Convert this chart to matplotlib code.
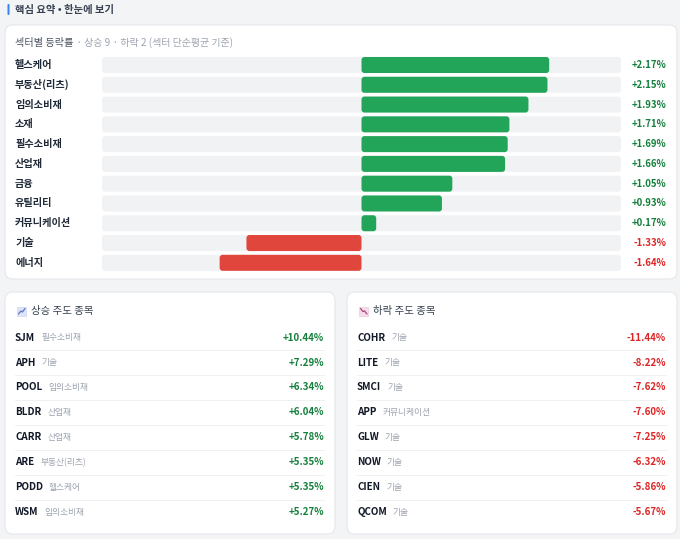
import matplotlib
matplotlib.use('Agg')
import matplotlib.pyplot as plt
from matplotlib.patches import FancyBboxPatch, Rectangle
from matplotlib.transforms import blended_transform_factory
import numpy as np

plt.rcParams['font.family'] = ['Noto Sans CJK KR', 'DejaVu Sans']

# ---------------- data ----------------
title = '핵심 요약 • 한눈에 보기'
panel_title = '섹터별 등락률'
sectors = ['헬스케어', '부동산(리츠)', '임의소비재', '소재', '필수소비재', '산업재',
           '금융', '유틸리티', '커뮤니케이션', '기술', '에너지']
sector_chg = [2.17, 2.15, 1.93, 1.71, 1.69, 1.66, 1.05, 0.93, 0.17, -1.33, -1.64]

gain_title = '상승 주도 종목'
gain_tickers = ['SJM', 'APH', 'POOL', 'BLDR', 'CARR', 'ARE', 'PODD', 'WSM']
gain_sectors = ['필수소비재', '기술', '임의소비재', '산업재', '산업재', '부동산(리츠)', '헬스케어', '임의소비재']
gain_chg = [10.44, 7.29, 6.34, 6.04, 5.78, 5.35, 5.35, 5.27]

loss_title = '하락 주도 종목'
loss_tickers = ['COHR', 'LITE', 'SMCI', 'APP', 'GLW', 'NOW', 'CIEN', 'QCOM']
loss_sectors = ['기술', '기술', '기술', '커뮤니케이션', '기술', '기술', '기술', '기술']
loss_chg = [-11.44, -8.22, -7.62, -7.60, -7.25, -6.32, -5.86, -5.67]

# ---------------- style ----------------
BG = '#f3f4f6'
CARD_EDGE = '#e5e7eb'
TRACK = '#f1f2f4'
BAR_UP = '#22a559'
BAR_DN = '#e0463c'
TXT_UP = '#15803d'
TXT_DN = '#dc2626'
DARK = '#1f2937'
MID = '#4b5563'
LIGHT = '#9ca3af'

W, H = 680, 539
fig = plt.figure(figsize=(W / 100, H / 100), dpi=100, facecolor=BG)
bg = fig.add_axes([0, 0, 1, 1], zorder=0)
bg.set_xlim(0, W)
bg.set_ylim(H, 0)
bg.axis('off')
bg.set_facecolor(BG)


def card(x, y, w, h):
    bg.add_patch(FancyBboxPatch((x, y), w, h, boxstyle='round,pad=0,rounding_size=8',
                                facecolor='white', edgecolor=CARD_EDGE, linewidth=0.8))


# title
bg.add_patch(FancyBboxPatch((7.5, 4), 2, 11, boxstyle='round,pad=0,rounding_size=1',
                            facecolor='#3b82f6', edgecolor='none'))
bg.text(15, 9.5, title, fontsize=7.4, color='#374151', fontweight='bold', va='center', ha='left')

# top card
card(5, 25, 672, 254)
n_up = sum(1 for v in sector_chg if v > 0)
n_dn = sum(1 for v in sector_chg if v < 0)
t = bg.text(15, 43, panel_title, fontsize=7.3, color=MID, fontweight='medium', va='center', ha='left')
bg.annotate(f' · 상승 {n_up} · 하락 {n_dn} (섹터 단순평균 기준)', xy=(1, 0.5), xycoords=t,
            va='center', ha='left', fontsize=7.2, color=LIGHT)

# bar axes
row_top, row_bot = 55.1, 272.7
x0, x1 = 102, 621
ax = fig.add_axes([x0 / W, 1 - row_bot / H, (x1 - x0) / W, (row_bot - row_top) / H], zorder=2)
ax.patch.set_alpha(0)
n = len(sectors)
ax.set_xlim(-3, 3)
ax.set_ylim(n - 0.5, -0.5)
ax.axis('off')
yy = np.arange(n)
tracks = ax.barh(yy, 6, left=-3, height=0.81, color=TRACK)
bars = ax.barh(yy, sector_chg, height=0.81,
               color=[BAR_UP if v >= 0 else BAR_DN for v in sector_chg])

xupp = 6 / (x1 - x0)
yupp = n / (row_bot - row_top)


def roundify(container, r_px):
    for rect in container:
        x, y0 = rect.get_xy()
        w, h = rect.get_width(), rect.get_height()
        if w < 0:
            x += w
            w = -w
        p = FancyBboxPatch((x, y0), w, h,
                           boxstyle=f'round,pad=0,rounding_size={r_px * xupp}',
                           mutation_aspect=yupp / xupp,
                           facecolor=rect.get_facecolor(), edgecolor='none',
                           zorder=rect.get_zorder())
        ax.add_patch(p)
        rect.set_visible(False)


roundify(tracks, 3)
roundify(bars, 3)

tr = blended_transform_factory(fig.transFigure, ax.transData)
for i, (lab, v) in enumerate(zip(sectors, sector_chg)):
    ax.text(15 / W, i, lab, transform=tr, fontsize=7.3, fontweight='bold', color=DARK,
            va='center', ha='left')
    ax.text(666 / W, i, f'{v:+.2f}%', transform=tr, fontsize=6.9, fontweight='bold',
            color=TXT_UP if v >= 0 else TXT_DN, va='center', ha='right')

# bottom cards
row0, dy = 337.7, 24.9


def mover_card(cx, head, tickers, secs, vals, up):
    card(cx, 292, 330, 242)
    ix, iy = cx + 12, 306.5
    if up:
        bg.add_patch(Rectangle((ix, iy), 9, 9, facecolor='#dfe4f7', edgecolor='#c7cfee', lw=0.4))
        bg.plot([ix + 1.5, ix + 4, ix + 5.5, ix + 8], [iy + 7.5, iy + 4.5, iy + 5.5, iy + 2],
                color='#5873d0', lw=0.9, solid_capstyle='round')
    else:
        bg.add_patch(Rectangle((ix, iy), 9, 9, facecolor='#f4dde9', edgecolor='#e6c3d6', lw=0.4))
        bg.plot([ix + 1.5, ix + 4, ix + 5.5, ix + 8], [iy + 2, iy + 5, iy + 4.5, iy + 7.5],
                color='#b0407f', lw=0.9, solid_capstyle='round')
    bg.text(cx + 26, 311, head, fontsize=7.5, color='#374151', fontweight='medium',
            va='center', ha='left')
    lx, rx = cx + 10, cx + 319
    for i, (tk, sc, v) in enumerate(zip(tickers, secs, vals)):
        y = row0 + dy * i
        tt = bg.text(lx, y, tk, fontsize=7.1, fontweight='bold', color='#111827',
                     va='center', ha='left')
        bg.annotate(sc, xy=(1, 0.5), xycoords=tt, xytext=(6, 0), textcoords='offset pixels',
                    fontsize=6.3, color=LIGHT, va='center', ha='left')
        bg.text(rx, y, f'{v:+.2f}%', fontsize=7.0, fontweight='bold',
                color=TXT_UP if up else TXT_DN, va='center', ha='right')
        if i < len(tickers) - 1:
            bg.plot([lx, rx], [y + dy / 2] * 2, color='#eef0f2', lw=0.7)


mover_card(5, gain_title, gain_tickers, gain_sectors, gain_chg, True)
mover_card(347, loss_title, loss_tickers, loss_sectors, loss_chg, False)

fig.savefig('out.png', dpi=100, facecolor=BG)
